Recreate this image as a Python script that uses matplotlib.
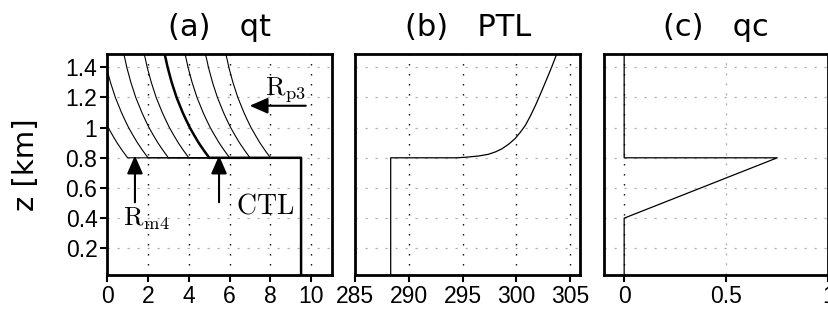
import matplotlib
matplotlib.use('Agg')
import matplotlib.pyplot as plt
from matplotlib import font_manager

# ---- data ----
# (a) qt : free-troposphere part of the CTL profile, above the 0.8 km inversion
z_ft = [0.80, 0.85, 0.90, 0.95, 1.00, 1.05, 1.10, 1.15, 1.20, 1.25, 1.30, 1.35, 1.40, 1.45, 1.49]
qt_ctl_ft = [5.00, 4.73, 4.48, 4.26, 4.05, 3.87, 3.70, 3.55, 3.40, 3.28, 3.16, 3.06, 2.96, 2.88, 2.81]
qt_bl = 9.5
z_inv = 0.8
qt_offsets = [-4, -3, -2, -1, 0, 1, 2, 3]   # Rm4 ... CTL ... Rp3

# (b) PTL
ptl_bl = 288.3
z_ptl = [0.800, 0.805, 0.812, 0.823, 0.840, 0.861, 0.890, 0.927, 0.970, 1.015, 1.080,
         1.147, 1.220, 1.301, 1.390, 1.490]
ptl_ft = [294.5, 295.5, 296.5, 297.4, 298.1, 298.7, 299.3, 299.9, 300.4, 300.86, 301.35,
          301.80, 302.25, 302.73, 303.25, 303.8]

# (c) qc
z_qc = [0.0, 0.4, 0.8, 0.8, 1.49]
qc = [0.0, 0.0, 0.75, 0.0, 0.0]

yticks = [0.2, 0.4, 0.6, 0.8, 1.0, 1.2, 1.4]
ylabels = ['0.2', '0.4', '0.6', '0.8', '1', '1.2', '1.4']
xticks_a = [0, 2, 4, 6, 8, 10]
xticks_b = [285, 290, 295, 300, 305]
xticks_c = [0, 0.5, 1]
xlabels_c = ['0', '0.5', '1']

plt.rcParams['lines.scale_dashes'] = False
plt.rcParams['mathtext.fontset'] = 'cm'

names = {f.name for f in font_manager.fontManager.ttflist}
if 'Liberation Sans Narrow' in names:
    tick_font, tick_size = 'Liberation Sans Narrow', 18
else:
    tick_font, tick_size = 'Liberation Sans', 16.5

fig = plt.figure(figsize=(8.29, 3.2), dpi=100)
bottom, height = 0.1391, 0.6931
ax_a = fig.add_axes([0.1293, bottom, 0.2708, height])
ax_b = fig.add_axes([0.4286, bottom, 0.2716, height])
ax_c = fig.add_axes([0.7283, bottom, 0.2708, height])

grid_gray = dict(color='#b0b0b0', lw=0.9, linestyle=(0, (1.6, 5.6)), zorder=0)
grid_black = dict(color='k', lw=1.0, linestyle=(0, (1.0, 6.2)), zorder=0)

for ax in (ax_a, ax_b, ax_c):
    ax.set_ylim(0.02, 1.49)
    ax.set_yticks(yticks)
    for y in yticks:
        ax.axhline(y, **grid_gray)
    for s in ax.spines.values():
        s.set_linewidth(2.0)
    ax.tick_params(direction='out', length=5, width=1.5, pad=2, labelsize=tick_size)

# (a) qt
for off in qt_offsets:
    xs = [qt_bl, qt_bl] + [q + off for q in qt_ctl_ft]
    zs = [0.0, z_inv] + z_ft
    ax_a.plot(xs, zs, color='k', lw=1.8 if off == 0 else 0.8, zorder=3)
ax_a.set_xlim(0, 11)
ax_a.set_xticks(xticks_a)
for x in xticks_a[1:]:
    ax_a.axvline(x, **grid_black)
ax_a.set_yticklabels(ylabels, family=tick_font, fontsize=tick_size)
ax_a.set_xticklabels([str(x) for x in xticks_a], family=tick_font, fontsize=tick_size)
ax_a.set_title('(a)   qt', fontsize=22, pad=13)

arrow = dict(arrowstyle='-|>,head_length=0.55,head_width=0.24', color='k', lw=1.5,
             shrinkA=0, shrinkB=0, mutation_scale=20)
ax_a.annotate('', xy=(6.98, 1.145), xytext=(9.73, 1.145), arrowprops=arrow, zorder=5)
ax_a.annotate('', xy=(5.48, 0.815), xytext=(5.48, 0.505), arrowprops=arrow, zorder=5)
ax_a.annotate('', xy=(1.36, 0.815), xytext=(1.36, 0.505), arrowprops=arrow, zorder=5)
ax_a.text(7.72, 1.213, r'$\mathrm{R_{p3}}$', fontsize=19, ha='left', va='baseline')
ax_a.text(6.33, 0.432, r'$\mathrm{CTL}$', fontsize=20, ha='left', va='baseline')
ax_a.text(0.79, 0.354, r'$\mathrm{R_{m4}}$', fontsize=19, ha='left', va='baseline')

# (b) PTL
ax_b.plot([ptl_bl, ptl_bl] + ptl_ft, [0.0, z_inv] + z_ptl, color='k', lw=0.9, zorder=3)
ax_b.set_xlim(285, 306)
ax_b.set_xticks(xticks_b)
for x in xticks_b[1:]:
    ax_b.axvline(x, **grid_black)
ax_b.set_xticklabels([str(x) for x in xticks_b], family=tick_font, fontsize=tick_size)
ax_b.tick_params(axis='y', left=False, labelleft=False)
ax_b.set_title('(b)   PTL', fontsize=22, pad=13)

# (c) qc
ax_c.plot(qc, z_qc, color='k', lw=0.9, zorder=3)
ax_c.set_xlim(-0.1, 1.0)
ax_c.set_xticks(xticks_c)
ax_c.axvline(0, **grid_black)
ax_c.axvline(0.5, **grid_gray)
ax_c.set_xticklabels(xlabels_c, family=tick_font, fontsize=tick_size)
ax_c.tick_params(axis='y', left=False, labelleft=False)
ax_c.set_title('(c)   qc', fontsize=22, pad=13)

fig.text(26 / 829, 1 - 164.6 / 320, 'z [km]', rotation=90, ha='center', va='center', fontsize=21)

fig.savefig('out.png', dpi=100)
